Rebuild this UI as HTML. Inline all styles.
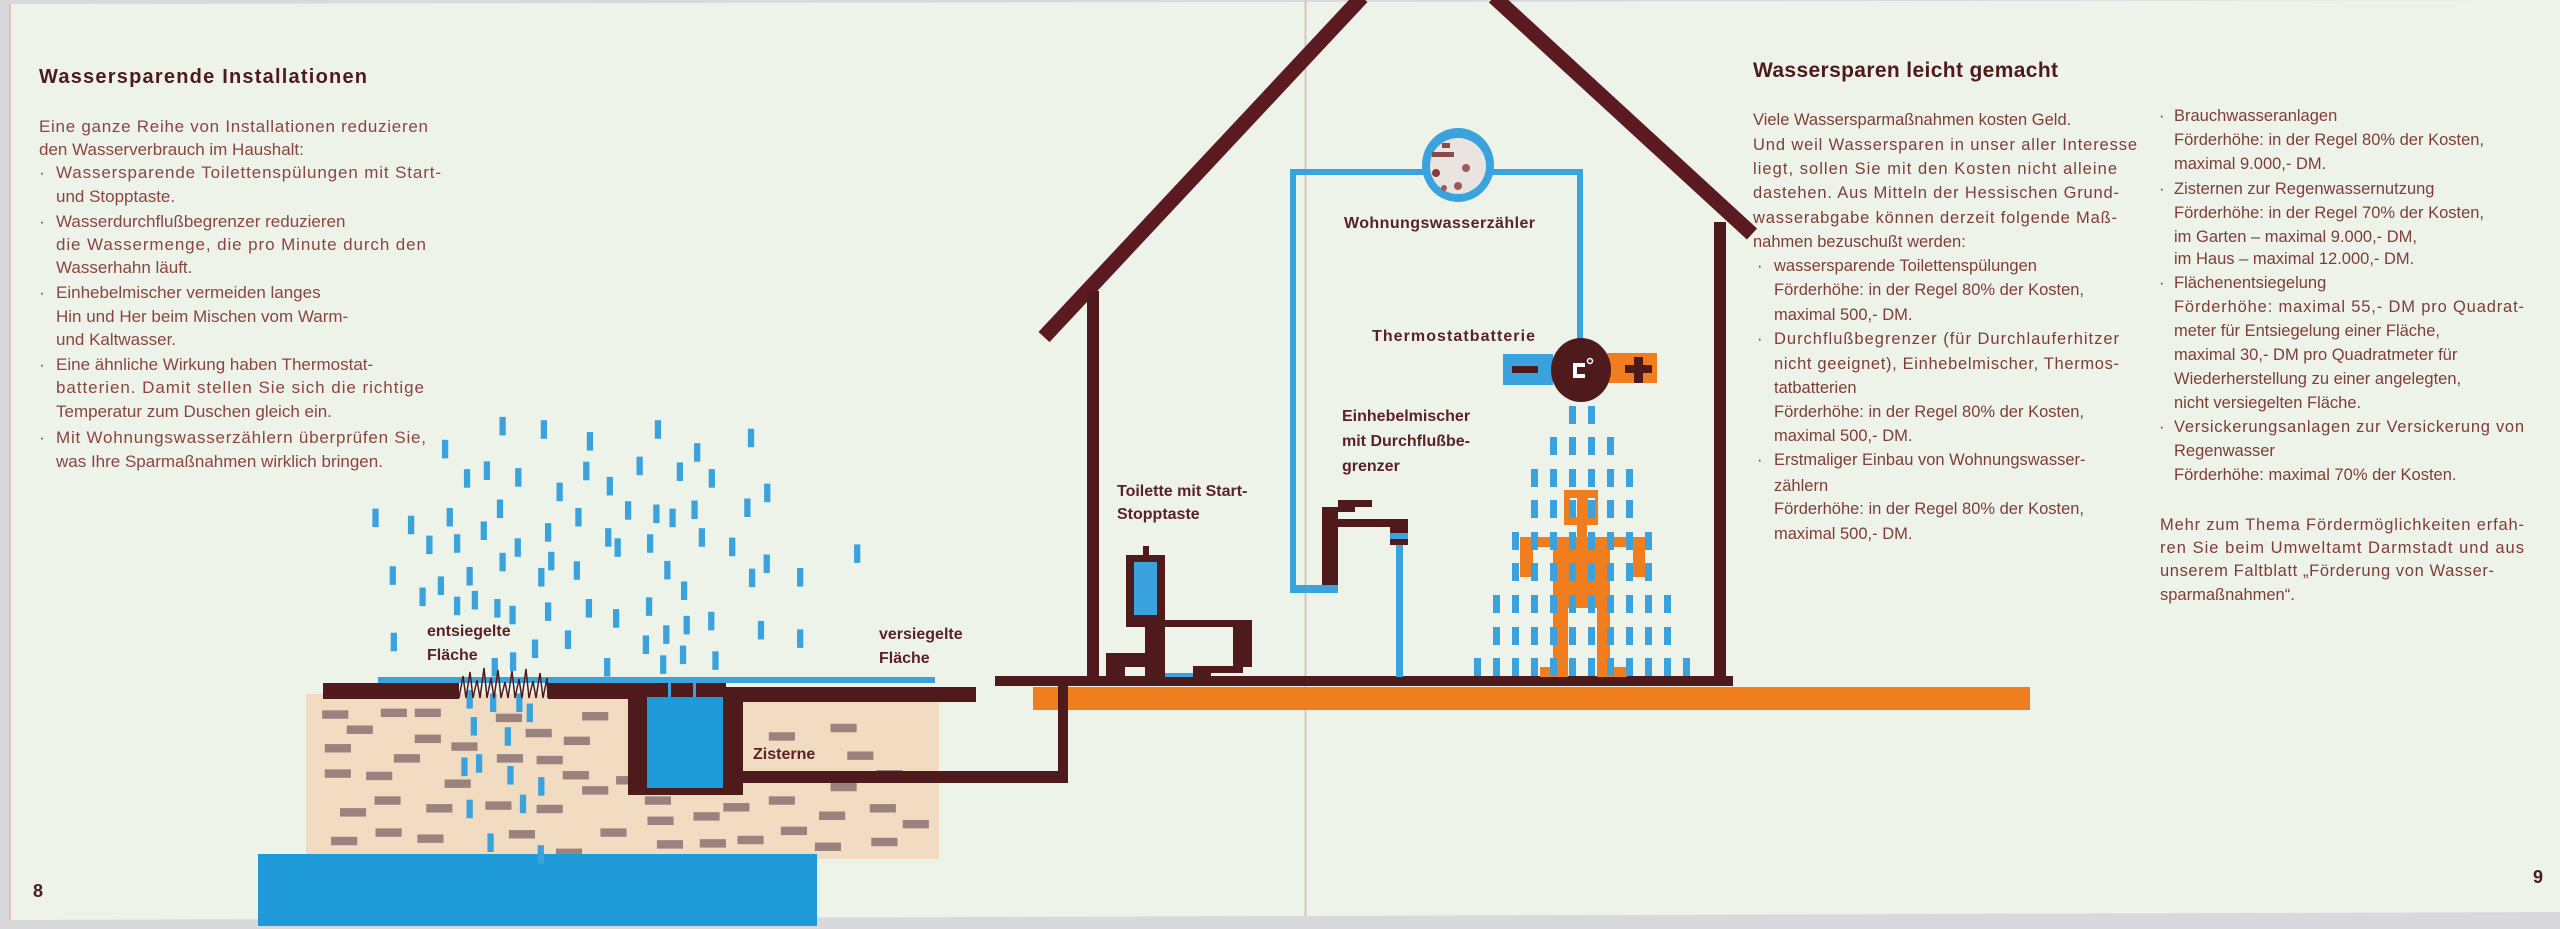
<!DOCTYPE html>
<html><head><meta charset="utf-8"><style>
html,body{margin:0;padding:0;background:#d9d9dd;}
svg{display:block}
.b{font-family:"Liberation Sans",sans-serif;font-size:17px;fill:#8a4540}
.r{font-family:"Liberation Sans",sans-serif;font-size:16.5px;fill:#7e3d38}
.h{font-family:"Liberation Sans",sans-serif;font-weight:bold;fill:#4e1a1c}
.l{font-family:"Liberation Sans",sans-serif;font-weight:bold;font-size:16px;fill:#5a2224}
</style></head><body>
<svg width="2560" height="929" viewBox="0 0 2560 929" xmlns="http://www.w3.org/2000/svg">
<polygon points="10,4 2560,0 2560,912 10,920" fill="#eef3ea"/>
<line x1="10" y1="4" x2="10" y2="920" stroke="#e8b0a8" stroke-width="1.5"/>
<line x1="1305.5" y1="0" x2="1305.5" y2="916" stroke="#d8c4b8" stroke-width="2"/>

<!-- left text -->
<text class="h" x="39" y="83" font-size="20" textLength="328">Wassersparende Installationen</text>
<g class="b">
<text x="39" y="132" textLength="389">Eine ganze Reihe von Installationen reduzieren</text>
<text x="39" y="155">den Wasserverbrauch im Haushalt:</text>
<text x="39" y="178">·</text><text x="56" y="178" textLength="385">Wassersparende Toilettenspülungen mit Start-</text>
<text x="56" y="202">und Stopptaste.</text>
<text x="39" y="227">·</text><text x="56" y="227">Wasserdurchflußbegrenzer reduzieren</text>
<text x="56" y="250" textLength="370">die Wassermenge, die pro Minute durch den</text>
<text x="56" y="273">Wasserhahn läuft.</text>
<text x="39" y="298">·</text><text x="56" y="298">Einhebelmischer vermeiden langes</text>
<text x="56" y="322">Hin und Her beim Mischen vom Warm-</text>
<text x="56" y="345">und Kaltwasser.</text>
<text x="39" y="370">·</text><text x="56" y="370">Eine ähnliche Wirkung haben Thermostat-</text>
<text x="56" y="393" textLength="368">batterien. Damit stellen Sie sich die richtige</text>
<text x="56" y="417">Temperatur zum Duschen gleich ein.</text>
<text x="39" y="443">·</text><text x="56" y="443" textLength="370">Mit Wohnungswasserzählern überprüfen Sie,</text>
<text x="56" y="467">was Ihre Sparmaßnahmen wirklich bringen.</text>
</g>

<!-- right text -->
<text class="h" x="1753" y="77" font-size="21" textLength="305">Wassersparen leicht gemacht</text>
<g class="r">
<text x="1753" y="125">Viele Wassersparmaßnahmen kosten Geld.</text>
<text x="1753" y="150" textLength="384">Und weil Wassersparen in unser aller Interesse</text>
<text x="1753" y="174" textLength="364">liegt, sollen Sie mit den Kosten nicht alleine</text>
<text x="1753" y="198" textLength="366">dastehen. Aus Mitteln der Hessischen Grund-</text>
<text x="1753" y="223" textLength="364">wasserabgabe können derzeit folgende Maß-</text>
<text x="1753" y="247">nahmen bezuschußt werden:</text>
<text x="1757" y="271">·</text><text x="1774" y="271">wassersparende Toilettenspülungen</text>
<text x="1774" y="295">Förderhöhe: in der Regel 80% der Kosten,</text>
<text x="1774" y="320">maximal 500,- DM.</text>
<text x="1757" y="344">·</text><text x="1774" y="344" textLength="345">Durchflußbegrenzer (für Durchlauferhitzer</text>
<text x="1774" y="369" textLength="345">nicht geeignet), Einhebelmischer, Thermos-</text>
<text x="1774" y="393">tatbatterien</text>
<text x="1774" y="417">Förderhöhe: in der Regel 80% der Kosten,</text>
<text x="1774" y="441">maximal 500,- DM.</text>
<text x="1757" y="465">·</text><text x="1774" y="465">Erstmaliger Einbau von Wohnungswasser-</text>
<text x="1774" y="491">zählern</text>
<text x="1774" y="514">Förderhöhe: in der Regel 80% der Kosten,</text>
<text x="1774" y="539">maximal 500,- DM.</text>

<text x="2159" y="121">·</text><text x="2174" y="121">Brauchwasseranlagen</text>
<text x="2174" y="145">Förderhöhe: in der Regel 80% der Kosten,</text>
<text x="2174" y="169">maximal 9.000,- DM.</text>
<text x="2159" y="194">·</text><text x="2174" y="194">Zisternen zur Regenwassernutzung</text>
<text x="2174" y="218">Förderhöhe: in der Regel 70% der Kosten,</text>
<text x="2174" y="242">im Garten – maximal 9.000,- DM,</text>
<text x="2174" y="264">im Haus – maximal 12.000,- DM.</text>
<text x="2159" y="288">·</text><text x="2174" y="288">Flächenentsiegelung</text>
<text x="2174" y="312" textLength="350">Förderhöhe: maximal 55,- DM pro Quadrat-</text>
<text x="2174" y="336">meter für Entsiegelung einer Fläche,</text>
<text x="2174" y="360">maximal 30,- DM pro Quadratmeter für</text>
<text x="2174" y="384">Wiederherstellung zu einer angelegten,</text>
<text x="2174" y="408">nicht versiegelten Fläche.</text>
<text x="2159" y="432">·</text><text x="2174" y="432" textLength="350">Versickerungsanlagen zur Versickerung von</text>
<text x="2174" y="456">Regenwasser</text>
<text x="2174" y="480">Förderhöhe: maximal 70% der Kosten.</text>
<text x="2160" y="530" textLength="364">Mehr zum Thema Fördermöglichkeiten erfah-</text>
<text x="2160" y="553" textLength="364">ren Sie beim Umweltamt Darmstadt und aus</text>
<text x="2160" y="576" textLength="334">unserem Faltblatt „Förderung von Wasser-</text>
<text x="2160" y="600">sparmaßnahmen“.</text>
</g>
<text class="h" x="33" y="897" font-size="18" fill="#6a2020">8</text>
<text class="h" x="2533" y="883" font-size="18" fill="#6a2020">9</text>

<!-- ground left -->
<rect x="306" y="694" width="633" height="165" fill="#f2dcc1"/>
<g transform="translate(250,400) scale(0.523,0.3373)" fill="#9a827e">
<rect x="138" y="920" width="50" height="25"/><rect x="250" y="915" width="50" height="25"/><rect x="315" y="915" width="50" height="25"/><rect x="185" y="965" width="50" height="25"/><rect x="470" y="930" width="50" height="25"/><rect x="635" y="925" width="50" height="25"/><rect x="143" y="1020" width="50" height="25"/><rect x="315" y="992" width="50" height="25"/><rect x="385" y="1015" width="50" height="25"/><rect x="527" y="975" width="50" height="25"/><rect x="600" y="998" width="50" height="25"/><rect x="275" y="1050" width="50" height="25"/><rect x="472" y="1050" width="50" height="25"/><rect x="548" y="1055" width="50" height="25"/><rect x="143" y="1095" width="50" height="25"/><rect x="222" y="1102" width="50" height="25"/><rect x="372" y="1125" width="50" height="25"/><rect x="598" y="1100" width="50" height="25"/><rect x="635" y="1145" width="50" height="25"/><rect x="700" y="1115" width="50" height="25"/><rect x="238" y="1175" width="50" height="25"/><rect x="172" y="1210" width="50" height="25"/><rect x="337" y="1198" width="50" height="25"/><rect x="450" y="1190" width="50" height="25"/><rect x="548" y="1200" width="50" height="25"/><rect x="155" y="1295" width="50" height="25"/><rect x="240" y="1270" width="50" height="25"/><rect x="320" y="1288" width="50" height="25"/><rect x="495" y="1275" width="50" height="25"/><rect x="585" y="1330" width="50" height="25"/><rect x="670" y="1270" width="50" height="25"/><rect x="755" y="1175" width="50" height="25"/><rect x="760" y="1235" width="50" height="25"/><rect x="848" y="1222" width="50" height="25"/><rect x="905" y="1195" width="50" height="25"/><rect x="992" y="985" width="50" height="25"/><rect x="1110" y="960" width="50" height="25"/><rect x="1142" y="1042" width="50" height="25"/><rect x="1198" y="1097" width="50" height="25"/><rect x="992" y="1175" width="50" height="25"/><rect x="1110" y="1135" width="50" height="25"/><rect x="1088" y="1220" width="50" height="25"/><rect x="1185" y="1198" width="50" height="25"/><rect x="1248" y="1245" width="50" height="25"/><rect x="1015" y="1265" width="50" height="25"/><rect x="932" y="1292" width="50" height="25"/><rect x="778" y="1305" width="50" height="25"/><rect x="1080" y="1312" width="50" height="25"/><rect x="1188" y="1298" width="50" height="25"/><rect x="860" y="1302" width="50" height="25"/>
</g>
<rect x="258" y="854" width="559" height="72" fill="#1f9ad8"/>
<!-- rain -->
<g transform="translate(250,400) scale(0.523,0.3373)" fill="#3aa3dd">
<rect x="477" y="50" width="12" height="55"/><rect x="556" y="60" width="12" height="55"/><rect x="644" y="95" width="12" height="55"/><rect x="774" y="60" width="12" height="55"/><rect x="952" y="85" width="12" height="55"/><rect x="367" y="118" width="12" height="55"/><rect x="849" y="128" width="12" height="55"/><rect x="409" y="205" width="12" height="55"/><rect x="447" y="182" width="12" height="55"/><rect x="507" y="202" width="12" height="55"/><rect x="637" y="183" width="12" height="55"/><rect x="739" y="168" width="12" height="55"/><rect x="816" y="185" width="12" height="55"/><rect x="877" y="205" width="12" height="55"/><rect x="586" y="245" width="12" height="55"/><rect x="682" y="228" width="12" height="55"/><rect x="983" y="248" width="12" height="55"/><rect x="234" y="322" width="12" height="55"/><rect x="302" y="343" width="12" height="55"/><rect x="376" y="320" width="12" height="55"/><rect x="441" y="360" width="12" height="55"/><rect x="472" y="295" width="12" height="55"/><rect x="564" y="365" width="12" height="55"/><rect x="622" y="320" width="12" height="55"/><rect x="717" y="300" width="12" height="55"/><rect x="771" y="310" width="12" height="55"/><rect x="802" y="322" width="12" height="55"/><rect x="844" y="298" width="12" height="55"/><rect x="945" y="292" width="12" height="55"/><rect x="679" y="380" width="12" height="55"/><rect x="697" y="410" width="12" height="55"/><rect x="759" y="398" width="12" height="55"/><rect x="858" y="380" width="12" height="55"/><rect x="916" y="408" width="12" height="55"/><rect x="1155" y="428" width="12" height="55"/><rect x="337" y="402" width="12" height="55"/><rect x="390" y="398" width="12" height="55"/><rect x="506" y="410" width="12" height="55"/><rect x="477" y="453" width="12" height="55"/><rect x="570" y="450" width="12" height="55"/><rect x="619" y="478" width="12" height="55"/><rect x="792" y="477" width="12" height="55"/><rect x="982" y="458" width="12" height="55"/><rect x="954" y="500" width="12" height="55"/><rect x="1046" y="498" width="12" height="55"/><rect x="267" y="493" width="12" height="55"/><rect x="359" y="523" width="12" height="55"/><rect x="414" y="495" width="12" height="55"/><rect x="551" y="498" width="12" height="55"/><rect x="824" y="538" width="12" height="55"/><rect x="324" y="556" width="12" height="55"/><rect x="390" y="583" width="12" height="55"/><rect x="424" y="566" width="12" height="55"/><rect x="467" y="590" width="12" height="55"/><rect x="496" y="610" width="12" height="55"/><rect x="564" y="600" width="12" height="55"/><rect x="642" y="590" width="12" height="55"/><rect x="694" y="620" width="12" height="55"/><rect x="757" y="585" width="12" height="55"/><rect x="829" y="640" width="12" height="55"/><rect x="876" y="628" width="12" height="55"/><rect x="971" y="655" width="12" height="55"/><rect x="1046" y="680" width="12" height="55"/><rect x="269" y="690" width="12" height="55"/><rect x="539" y="710" width="12" height="55"/><rect x="602" y="683" width="12" height="55"/><rect x="751" y="698" width="12" height="55"/><rect x="790" y="668" width="12" height="55"/><rect x="822" y="728" width="12" height="55"/><rect x="884" y="745" width="12" height="55"/><rect x="677" y="765" width="12" height="55"/><rect x="784" y="757" width="12" height="55"/><rect x="462" y="765" width="12" height="55"/><rect x="497" y="748" width="12" height="55"/>
<rect x="414" y="860" width="12" height="55"/><rect x="459" y="870" width="12" height="55"/><rect x="509" y="870" width="12" height="55"/><rect x="529" y="900" width="12" height="55"/><rect x="422" y="940" width="12" height="55"/><rect x="487" y="970" width="12" height="55"/><rect x="404" y="1060" width="12" height="55"/><rect x="432" y="1050" width="12" height="55"/><rect x="492" y="1085" width="12" height="55"/><rect x="551" y="1118" width="12" height="55"/><rect x="414" y="1185" width="12" height="55"/><rect x="516" y="1170" width="12" height="55"/><rect x="454" y="1285" width="12" height="55"/><rect x="550" y="1320" width="12" height="55"/>
</g>
<!-- surface -->
<rect x="378" y="677" width="557" height="6" fill="#3aa3dd"/>
<rect x="323" y="683" width="136" height="16" fill="#4e1a1c"/>
<rect x="548" y="683" width="178" height="16" fill="#4e1a1c"/>
<rect x="726" y="687" width="250" height="15" fill="#4e1a1c"/>
<polyline points="459,698 463,676 466,698 470,672 473,698 477,680 480,698 484,668 487,698 491,678 494,698 498,670 501,698 505,682 508,698 512,671 515,698 519,679 522,698 526,669 529,698 533,681 536,698 540,673 543,698 547,678 548,698" fill="none" stroke="#4e1a1c" stroke-width="1.5"/>
<!-- cistern -->
<rect x="628" y="693" width="115" height="102" fill="#4e1a1c"/>
<rect x="647" y="697" width="76" height="91" fill="#1f9ad8"/>
<rect x="668" y="679" width="3" height="18" fill="#3aa3dd"/>
<rect x="693" y="679" width="3" height="18" fill="#3aa3dd"/>
<rect x="742" y="771" width="326" height="12" fill="#4e1a1c"/>
<rect x="1058" y="680" width="10" height="103" fill="#4e1a1c"/>
<!-- orange + floor -->
<rect x="1033" y="687" width="997" height="23" fill="#f07d1e"/>
<rect x="1058" y="686" width="10" height="24" fill="#4e1a1c"/>
<rect x="995" y="676" width="738" height="10" fill="#4e1a1c"/>
<!-- house -->
<line x1="1044" y1="337" x2="1362" y2="-3" stroke="#5a1a20" stroke-width="15"/>
<line x1="1494" y1="-3" x2="1752" y2="234" stroke="#5a1a20" stroke-width="15"/>
<rect x="1087" y="291" width="12" height="388" fill="#4e1a1c"/>
<rect x="1714" y="222" width="12" height="457" fill="#4e1a1c"/>
<!-- pipes -->
<g fill="#3aa3dd">
<rect x="1290" y="169" width="135" height="6"/>
<rect x="1290" y="169" width="6" height="424"/>
<rect x="1290" y="585" width="48" height="8"/>
<rect x="1490" y="169" width="93" height="6"/>
<rect x="1577" y="169" width="6" height="190"/>
<rect x="1396" y="545" width="7" height="132"/>
</g>
<!-- meter -->
<ellipse cx="1458" cy="165" rx="36" ry="37" fill="#3aa3dd"/>
<circle cx="1458" cy="166" r="28" fill="#e9e4df"/>
<rect x="1432" y="152" width="22" height="5" fill="#8a4a48"/>
<rect x="1442" y="143" width="8" height="5" fill="#8a4a48"/>
<circle cx="1436" cy="173" r="4" fill="#8a3a3a"/>
<circle cx="1466" cy="168" r="4" fill="#9a5a58"/>
<circle cx="1458" cy="186" r="4" fill="#9a5a58"/>
<circle cx="1444" cy="188" r="3" fill="#9a5a58"/>
<!-- toilet -->
<g fill="#4e1a1c">
<rect x="1126" y="555" width="39" height="72"/>
<rect x="1143" y="546" width="6" height="10"/>
<rect x="1145" y="620" width="20" height="57"/>
<rect x="1165" y="620" width="87" height="7"/>
<rect x="1233" y="620" width="19" height="47"/>
<rect x="1193" y="666" width="50" height="7"/>
<rect x="1193" y="666" width="18" height="11"/>
<rect x="1106" y="653" width="39" height="14"/>
<rect x="1106" y="653" width="19" height="24"/>
</g>
<rect x="1134" y="562" width="23" height="53" fill="#3aa3dd"/>
<rect x="1165" y="673" width="28" height="4" fill="#3aa3dd"/>
<!-- faucet -->
<g fill="#4e1a1c">
<rect x="1322" y="507" width="16" height="80"/>
<rect x="1338" y="500" width="34" height="7"/>
<rect x="1338" y="507" width="17" height="5"/>
<rect x="1338" y="519" width="70" height="8"/>
<rect x="1390" y="527" width="18" height="18"/>
</g>
<rect x="1390" y="533" width="18" height="6" fill="#3aa3dd"/>
<rect x="1290" y="585" width="48" height="8" fill="#3aa3dd"/>
<!-- thermostat -->
<rect x="1503" y="354" width="50" height="31" fill="#3aa3dd"/>
<rect x="1512" y="366" width="26" height="7" fill="#4e1a1c"/>
<rect x="1607" y="353" width="50" height="30" fill="#f07d1e"/>
<rect x="1625" y="365" width="27" height="8" fill="#4e1a1c"/>
<rect x="1634" y="357" width="9" height="26" fill="#4e1a1c"/>
<ellipse cx="1581" cy="370" rx="30" ry="32" fill="#4e1a1c"/>
<path d="M1573,363 h12 v4 h-8 v7 h8 v4 h-12 z" fill="#fff"/>
<circle cx="1590" cy="361" r="2.5" fill="none" stroke="#fff" stroke-width="1.5"/>
<!-- person -->
<g fill="#f07d1e">
<rect x="1564" y="490" width="34" height="35"/>
<rect x="1577" y="525" width="10" height="13"/>
<rect x="1520" y="537" width="125" height="10"/>
<rect x="1520" y="537" width="13" height="40"/>
<rect x="1633" y="537" width="12" height="40"/>
<rect x="1553" y="537" width="57" height="71"/>
<rect x="1553" y="608" width="15" height="69"/>
<rect x="1597" y="608" width="13" height="69"/>
<rect x="1540" y="667" width="28" height="10"/>
<rect x="1597" y="667" width="30" height="10"/>
</g>
<rect x="1570" y="498" width="7" height="19" fill="#eef3ea"/>
<rect x="1588" y="498" width="7" height="19" fill="#eef3ea"/>
<!-- shower dashes -->
<g fill="#3aa3dd">
<rect x="1569" y="406" width="7" height="18"/><rect x="1588" y="406" width="7" height="18"/>
<rect x="1550" y="437" width="7" height="18"/><rect x="1569" y="437" width="7" height="18"/><rect x="1588" y="437" width="7" height="18"/><rect x="1607" y="437" width="7" height="18"/>
<rect x="1531" y="469" width="7" height="18"/><rect x="1550" y="469" width="7" height="18"/><rect x="1569" y="469" width="7" height="18"/><rect x="1588" y="469" width="7" height="18"/><rect x="1607" y="469" width="7" height="18"/><rect x="1626" y="469" width="7" height="18"/>
<rect x="1531" y="500" width="7" height="18"/><rect x="1550" y="500" width="7" height="18"/><rect x="1569" y="500" width="7" height="18"/><rect x="1588" y="500" width="7" height="18"/><rect x="1607" y="500" width="7" height="18"/><rect x="1626" y="500" width="7" height="18"/>
<rect x="1512" y="532" width="7" height="18"/><rect x="1531" y="532" width="7" height="18"/><rect x="1550" y="532" width="7" height="18"/><rect x="1569" y="532" width="7" height="18"/><rect x="1588" y="532" width="7" height="18"/><rect x="1607" y="532" width="7" height="18"/><rect x="1626" y="532" width="7" height="18"/><rect x="1645" y="532" width="7" height="18"/>
<rect x="1512" y="563" width="7" height="18"/><rect x="1531" y="563" width="7" height="18"/><rect x="1550" y="563" width="7" height="18"/><rect x="1569" y="563" width="7" height="18"/><rect x="1588" y="563" width="7" height="18"/><rect x="1607" y="563" width="7" height="18"/><rect x="1626" y="563" width="7" height="18"/><rect x="1645" y="563" width="7" height="18"/>
<rect x="1493" y="595" width="7" height="18"/><rect x="1512" y="595" width="7" height="18"/><rect x="1531" y="595" width="7" height="18"/><rect x="1550" y="595" width="7" height="18"/><rect x="1569" y="595" width="7" height="18"/><rect x="1588" y="595" width="7" height="18"/><rect x="1607" y="595" width="7" height="18"/><rect x="1626" y="595" width="7" height="18"/><rect x="1645" y="595" width="7" height="18"/><rect x="1664" y="595" width="7" height="18"/>
<rect x="1493" y="627" width="7" height="18"/><rect x="1512" y="627" width="7" height="18"/><rect x="1531" y="627" width="7" height="18"/><rect x="1550" y="627" width="7" height="18"/><rect x="1569" y="627" width="7" height="18"/><rect x="1588" y="627" width="7" height="18"/><rect x="1607" y="627" width="7" height="18"/><rect x="1626" y="627" width="7" height="18"/><rect x="1645" y="627" width="7" height="18"/><rect x="1664" y="627" width="7" height="18"/>
<rect x="1474" y="658" width="7" height="18"/><rect x="1493" y="658" width="7" height="18"/><rect x="1512" y="658" width="7" height="18"/><rect x="1531" y="658" width="7" height="18"/><rect x="1550" y="658" width="7" height="18"/><rect x="1569" y="658" width="7" height="18"/><rect x="1588" y="658" width="7" height="18"/><rect x="1607" y="658" width="7" height="18"/><rect x="1626" y="658" width="7" height="18"/><rect x="1645" y="658" width="7" height="18"/><rect x="1664" y="658" width="7" height="18"/><rect x="1683" y="658" width="7" height="18"/>
</g>
<!-- labels -->
<text class="l" x="1344" y="228" textLength="191">Wohnungswasserzähler</text>
<text class="l" x="1372" y="341" textLength="163">Thermostatbatterie</text>
<text class="l" x="1342" y="421">Einhebelmischer</text>
<text class="l" x="1342" y="446">mit Durchflußbe-</text>
<text class="l" x="1342" y="471">grenzer</text>
<text class="l" x="1117" y="496">Toilette mit Start-</text>
<text class="l" x="1117" y="519">Stopptaste</text>
<text class="l" x="427" y="636" font-size="15">entsiegelte</text>
<text class="l" x="427" y="660" font-size="15">Fläche</text>
<text class="l" x="879" y="639" font-size="15">versiegelte</text>
<text class="l" x="879" y="663" font-size="15">Fläche</text>
<text class="l" x="753" y="759" font-size="15">Zisterne</text>
</svg>
</body></html>
